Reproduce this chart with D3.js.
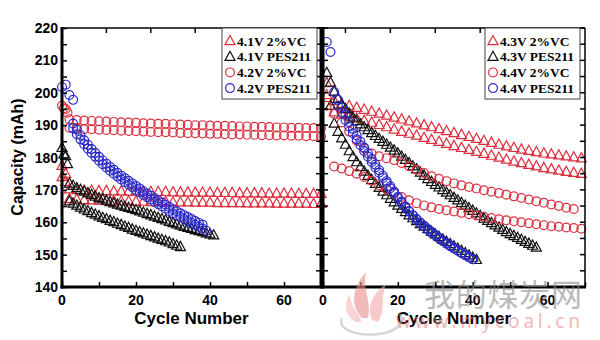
<!DOCTYPE html>
<html>
<head>
<meta charset="utf-8">
<script src="https://cdn.jsdelivr.net/npm/d3@7"></script>
<style>
  body { margin: 0; background: #fff; }
  svg { display: block; }
  .tick-lbl { font-family: Arial, "Liberation Sans", sans-serif; font-weight: bold; font-size: 14px; }
  .ax-title { font-family: Arial, "Liberation Sans", sans-serif; font-weight: bold; }
  .leg { font-family: "Times New Roman", "Liberation Serif", serif; font-weight: bold; font-size: 13.5px; }
</style>
</head>
<body>
<svg id="chart" width="600" height="340"></svg>
<script>
// ------------------ DATA ------------------
// every cell: values in mAh, cycle = start + i * step

const legendLeft = ["4.1V 2%VC", "4.1V PES211", "4.2V 2%VC", "4.2V PES211"];
const legendRight = ["4.3V 2%VC", "4.3V PES211", "4.4V 2%VC", "4.4V PES211"];
const yTicks = [140, 150, 160, 170, 180, 190, 200, 210, 220];
const xTicks = [0, 20, 40, 60];

// left panel - 4.1V 2%VC
const l41vcHeadA = [177.5, 175.0];
const l41vcHeadB = [174.0, 172.5];
const l41vcA = [170.2,170.0,169.8,169.8,169.7,169.7,169.6,169.6,169.5,169.5,169.5,169.4,169.4,169.4,169.3,169.3,169.3,169.2,169.2,169.2,169.1,169.1,169.1,169.0,169.0,169.0,169.0,168.9,168.9,168.9,168.9,168.8,168.8,168.8,168.8];
const l41vcB = [167.2,167.0,166.9,166.8,166.7,166.6,166.6,166.5,166.5,166.4,166.4,166.3,166.3,166.3,166.2,166.2,166.2,166.1,166.1,166.1,166.0,166.0,166.0,166.0,165.9,165.9,165.9,165.9,165.8,165.8,165.8,165.8,165.8,165.7,165.7];

// left panel - 4.1V PES211
const l41pesHeadA = [183.0, 180.5];
const l41pesHeadB = [181.0, 178.0];
const l41pesA = [172.0,171.3,170.6,170.0,169.5,169.0,168.5,168.0,167.5,167.1,166.7,166.3,165.9,165.5,165.2,164.8,164.5,164.2,163.8,163.4,163.0,162.6,162.2,161.8,161.4,161.0,160.6,160.2,159.8,159.4,159.0,158.6,158.3,158.0,157.6,157.3,157.0,156.6,156.3,156.0];
const l41pesB = [166.5,165.8,165.2,164.6,164.0,163.5,162.9,162.4,161.9,161.4,161.0,160.5,160.1,159.6,159.2,158.7,158.3,157.8,157.4,157.0,156.6,156.2,155.8,155.4,155.0,154.6,154.2,153.8,153.3,152.8,152.4];

// left panel - 4.2V 2%VC
const l42vcHeadA = [196.0, 195.0];
const l42vcHeadB = [195.2, 193.8];
const l42vcA = [191.8,191.6,191.4,191.3,191.2,191.1,191.0,190.9,190.8,190.7,190.6,190.5,190.4,190.4,190.3,190.2,190.1,190.0,190.0,189.9,189.8,189.8,189.7,189.6,189.6,189.5,189.5,189.4,189.3,189.3,189.2,189.2,189.1,189.1,189.0];
const l42vcB = [189.2,189.0,188.8,188.7,188.6,188.5,188.4,188.3,188.2,188.1,188.0,187.9,187.8,187.8,187.7,187.6,187.5,187.5,187.4,187.3,187.3,187.2,187.1,187.1,187.0,187.0,186.9,186.9,186.8,186.8,186.7,186.7,186.6,186.6,186.5];

// left panel - 4.2V PES211
const l42pesHead = [201.8, 202.5, 199.3, 197.8];
const l42pesA = [190.5,188.6,186.9,185.3,183.9,182.6,181.4,180.2,179.1,178.1,177.1,176.2,175.3,174.4,173.6,172.8,172.0,171.2,170.4,169.6,168.9,168.2,167.5,166.8,166.1,165.4,164.7,164.0,163.4,162.8,162.2,161.6,161.0,160.4,159.8,159.2];
const l42pesB = [189.0,187.2,185.6,184.1,182.7,181.4,180.2,179.0,177.9,176.9,175.9,175.0,174.1,173.2,172.4,171.6,170.8,170.0,169.2,168.4,167.7,167.0,166.3,165.6,164.9,164.2,163.5,162.8,162.2,161.6,161.0,160.4,159.8,159.2,158.6,158.0,157.4];

// right panel - 4.3V 2%VC
const r43vcHeadA = [203.0];
const r43vcHeadB = [199.3];
const r43vcA = [197.5,196.6,196.0,195.4,194.8,194.2,193.6,193.0,192.4,191.8,191.2,190.6,190.0,189.4,188.8,188.2,187.6,187.0,186.4,185.8,185.2,184.6,184.0,183.5,183.0,182.5,182.1,181.7,181.3,181.0,180.7,180.4,180.1,179.8];
const r43vcB = [194.0,193.3,192.7,192.1,191.4,190.8,190.1,189.4,188.7,188.0,187.4,186.8,186.1,185.5,184.9,184.3,183.6,183.0,182.4,181.8,181.2,180.6,180.0,179.4,178.8,178.3,177.8,177.3,176.8,176.4,176.0,175.6,175.3,175.0];

// right panel - 4.3V PES211
const r43pesA = [206.2,203.2,200.4,198.2,196.4,195.0,193.6,192.4,191.3,190.3,189.4,188.5,187.6,186.7,185.8,184.9,184.0,183.1,182.2,181.3,180.3,179.3,178.3,177.3,176.4,175.4,174.4,173.4,172.5,171.6,170.8,170.0,169.2,168.4,167.6,166.8,166.0,165.2,164.4,163.6,162.8,162.0,161.2,160.5,159.8,159.1,158.4,157.7,157.0,156.4,155.8,155.2,154.6,154.0,153.4,152.8,152.2];
const r43pesB = [196.0,190.5,188.0,186.0,184.0,182.0,180.2,178.6,177.1,175.7,174.4,173.1,171.9,170.7,169.5,168.4,167.3,166.2,165.2,164.2,163.2,162.2,161.3,160.4,159.5,158.7,157.9,157.1,156.3,155.5,154.7,154.0,153.3,152.6,151.9,151.2,150.5,149.8,149.1,148.4];

// right panel - 4.4V 2%VC
const r44vcA = [196.0,193.5,190.8,188.0,185.2,182.8,181.2,180.4,179.8,179.2,178.3,177.3,176.2,175.2,174.2,173.4,172.7,172.0,171.4,170.9,170.4,169.9,169.4,169.0,168.5,168.0,167.5,167.0,166.5,166.0,165.5,165.0,164.5,164.1];
const r44vcB = [177.2,176.6,175.8,175.0,174.0,172.8,171.4,170.2,169.0,167.8,166.8,165.9,165.2,164.6,164.1,163.7,163.3,162.9,162.5,162.1,161.7,161.3,160.9,160.6,160.3,160.0,159.7,159.4,159.1,158.8,158.6,158.4,158.2,158.0];

// right panel - 4.4V PES211
const r44pesHead = [215.7, 212.6];
const r44pesA = [200.2,197.8,195.4,193.1,190.9,188.8,186.8,184.9,183.1,181.3,179.5,177.8,176.1,174.4,172.7,171.1,169.5,167.9,166.4,164.9,163.5,162.2,161.0,159.9,158.9,157.9,157.0,156.1,155.2,154.4,153.6,152.8,152.0,151.3,150.6,149.9,149.2,148.6];
const r44pesB = [196.0,193.8,191.6,189.5,187.5,185.6,183.8,182.0,180.3,178.6,176.9,175.3,173.7,172.1,170.5,169.0,167.5,166.0,164.6,163.3,162.0,160.8,159.7,158.7,157.7,156.8,155.9,155.0,154.2,153.4,152.6,151.9,151.2,150.5,149.8,149.2,148.6];

// table of cells: panel, series index (legend order), first cycle, cycle step, values
const cells = [
    { p: 0, s: 0, start: 0, step: 1, v: l41vcHeadA },
    { p: 0, s: 0, start: 0, step: 1, v: l41vcHeadB },
    { p: 0, s: 0, start: 2, step: 2, v: l41vcA },
    { p: 0, s: 0, start: 2, step: 2, v: l41vcB },
    { p: 0, s: 1, start: 0, step: 1, v: l41pesHeadA },
    { p: 0, s: 1, start: 0.5, step: 1, v: l41pesHeadB },
    { p: 0, s: 1, start: 2, step: 1, v: l41pesA },
    { p: 0, s: 1, start: 2, step: 1, v: l41pesB },
    { p: 0, s: 2, start: 0, step: 1, v: l42vcHeadA },
    { p: 0, s: 2, start: 0.5, step: 1, v: l42vcHeadB },
    { p: 0, s: 2, start: 2, step: 2, v: l42vcA },
    { p: 0, s: 2, start: 2, step: 2, v: l42vcB },
    { p: 0, s: 3, start: 0, step: 1, v: l42pesHead },
    { p: 0, s: 3, start: 3, step: 1, v: l42pesA },
    { p: 0, s: 3, start: 3, step: 1, v: l42pesB },
    { p: 1, s: 0, start: 1, step: 1, v: r43vcHeadA },
    { p: 1, s: 0, start: 1, step: 1, v: r43vcHeadB },
    { p: 1, s: 0, start: 3, step: 2, v: r43vcA },
    { p: 1, s: 0, start: 3, step: 2, v: r43vcB },
    { p: 1, s: 1, start: 1, step: 1, v: r43pesA },
    { p: 1, s: 1, start: 2, step: 1, v: r43pesB },
    { p: 1, s: 2, start: 1, step: 2, v: r44vcA },
    { p: 1, s: 2, start: 3, step: 2, v: r44vcB },
    { p: 1, s: 3, start: 1, step: 1, v: r44pesHead },
    { p: 1, s: 3, start: 3, step: 1, v: r44pesA },
    { p: 1, s: 3, start: 4, step: 1, v: r44pesB }
];

// ------------------ STYLE ------------------

const red = "#dc2f3d";
const colors = [red, "#111111", red, "#2a2ac8"];
const shapes = ["tri", "tri", "circ", "circ"];

let svg = d3.select("#chart");

let y = d3.scaleLinear().domain([140, 220]).range([287, 28]);
let xs = [
    d3.scaleLinear().domain([0, 70]).range([62, 321]),
    d3.scaleLinear().domain([0, 70]).range([323, 585])
];

// ------------------ MARKERS ------------------

function drawMarker(g, shape, color, cx, cy) {
    if (shape == "tri") {
        g.append("path")
            .attr("d", "M" + cx + "," + (cy - 5.5) + "L" + (cx + 5) + "," + (cy + 3.7) + "L" + (cx - 5) + "," + (cy + 3.7) + "Z")
            .attr("fill", "none")
            .attr("stroke", color)
            .attr("stroke-width", 1.2);
    } else {
        g.append("circle")
            .attr("cx", cx)
            .attr("cy", cy)
            .attr("r", 4.4)
            .attr("fill", "none")
            .attr("stroke", color)
            .attr("stroke-width", 1.2);
    }
}

let marks = svg.append("g");
for (let s = 0; s < 4; s++) {
    cells.filter(c => c.s == s).forEach(c => {
        c.v.forEach((val, i) => {
            drawMarker(marks, shapes[s], colors[s], xs[c.p](c.start + i * c.step), y(val));
        });
    });
}

// ------------------ AXES ------------------

let axes = svg.append("g");

// left y axis with inward ticks every 5
axes.append("g")
    .attr("transform", "translate(62,0)")
    .call(d3.axisLeft(y).tickValues(d3.range(140, 221, 5)).tickSize(-5).tickFormat(""))
    .call(g => g.select(".domain").remove())
    .call(g => g.selectAll("line").attr("stroke", "#000").attr("stroke-width", 1.5));

axes.selectAll(".ylbl")
    .data(yTicks)
    .enter().append("text")
    .attr("class", "tick-lbl")
    .attr("x", 58)
    .attr("y", d => y(d) + 5)
    .attr("text-anchor", "end")
    .text(d => d);

// middle divider ticks on both sides, right edge ticks
[[316, 5], [323, 5], [580, 5]].forEach(t => {
    axes.selectAll(null)
        .data(d3.range(140, 221, 5))
        .enter().append("line")
        .attr("x1", t[0]).attr("x2", t[0] + t[1])
        .attr("y1", d => y(d)).attr("y2", d => y(d))
        .attr("stroke", "#000").attr("stroke-width", 1.5);
});

// bottom axes
xs.forEach((x, p) => {
    axes.append("g")
        .attr("transform", "translate(0,287)")
        .call(d3.axisBottom(x).tickValues(d3.range(0, 71, 10)).tickSize(-5).tickFormat(""))
        .call(g => g.select(".domain").remove())
        .call(g => g.selectAll("line").attr("stroke", "#000").attr("stroke-width", 1.5));

    axes.selectAll(null)
        .data(xTicks)
        .enter().append("text")
        .attr("class", "tick-lbl")
        .attr("x", d => x(d))
        .attr("y", 305)
        .attr("text-anchor", "middle")
        .text(d => d);

    // top ticks
    let top = p == 0 ? [12, 24, 36, 48, 60] : [6, 18, 30, 42, 54, 66];
    axes.selectAll(null)
        .data(top)
        .enter().append("line")
        .attr("x1", d => x(d)).attr("x2", d => x(d))
        .attr("y1", 28).attr("y2", 33)
        .attr("stroke", "#000").attr("stroke-width", 1.5);

    axes.append("text")
        .attr("class", "ax-title")
        .attr("x", (x.range()[0] + x.range()[1]) / 2)
        .attr("y", 324)
        .attr("text-anchor", "middle")
        .attr("font-size", 17)
        .text("Cycle Number");
});

// frame lines
axes.append("line").attr("x1", 62).attr("x2", 585).attr("y1", 28).attr("y2", 28).attr("stroke", "#000").attr("stroke-width", 1.5);
axes.append("line").attr("x1", 585).attr("x2", 585).attr("y1", 28).attr("y2", 287).attr("stroke", "#000").attr("stroke-width", 1.5);
axes.append("line").attr("x1", 60.5).attr("x2", 586).attr("y1", 287).attr("y2", 287).attr("stroke", "#000").attr("stroke-width", 3);
axes.append("line").attr("x1", 62).attr("x2", 62).attr("y1", 27).attr("y2", 288.5).attr("stroke", "#000").attr("stroke-width", 3);
axes.append("line").attr("x1", 322).attr("x2", 322).attr("y1", 27).attr("y2", 288.5).attr("stroke", "#000").attr("stroke-width", 5);

axes.append("text")
    .attr("class", "ax-title")
    .attr("transform", "translate(23,157) rotate(-90)")
    .attr("text-anchor", "middle")
    .attr("font-size", 16)
    .text("Capacity (mAh)");

// ------------------ LEGENDS ------------------

[[222, legendLeft], [485, legendRight]].forEach(l => {
    let lg = svg.append("g");
    lg.append("rect")
        .attr("x", l[0]).attr("y", 28)
        .attr("width", 95).attr("height", 71)
        .attr("fill", "#fff")
        .attr("stroke", "#444").attr("stroke-width", 1);
    l[1].forEach((name, i) => {
        let ry = 41 + i * 15.7;
        drawMarker(lg, shapes[i], colors[i], l[0] + 8, ry);
        lg.append("text")
            .attr("class", "leg")
            .attr("x", l[0] + 15)
            .attr("y", ry + 4.5)
            .text(name);
    });
});

// ------------------ WATERMARK ------------------

let wm = svg.append("g").attr("opacity", 0.6);
wm.append("path")
    .attr("d", "M342,318 C336,330 360,338 385,333 C398,330 404,322 400,314")
    .attr("fill", "none").attr("stroke", "#bbbbbb").attr("stroke-width", 2.5);
wm.append("path")
    .attr("d", "M362,318 C350,305 352,288 366,272 C362,290 372,300 368,318 Z")
    .attr("fill", "#eb8c8c");
wm.append("path")
    .attr("d", "M372,320 C366,306 374,292 386,284 C380,300 386,310 378,322 Z")
    .attr("fill", "#f2aaaa");
wm.append("path")
    .attr("d", "M356,322 C344,316 344,302 350,294 C350,306 358,312 362,322 Z")
    .attr("fill", "#f4b8b8");
wm.append("text")
    .attr("x", 424).attr("y", 306)
    .attr("font-family", "'Noto Sans CJK SC', sans-serif")
    .attr("font-size", 31)
    .attr("fill", "#8c8c8c")
    .attr("textLength", 158)
    .text("我的煤炭网");
wm.append("text")
    .attr("x", 396).attr("y", 328)
    .attr("font-family", "'Noto Sans', sans-serif")
    .attr("font-size", 19)
    .attr("fill", "#e58a8a")
    .attr("textLength", 184)
    .attr("lengthAdjust", "spacing")
    .text("www.mycoal.cn");
</script>
</body>
</html>
